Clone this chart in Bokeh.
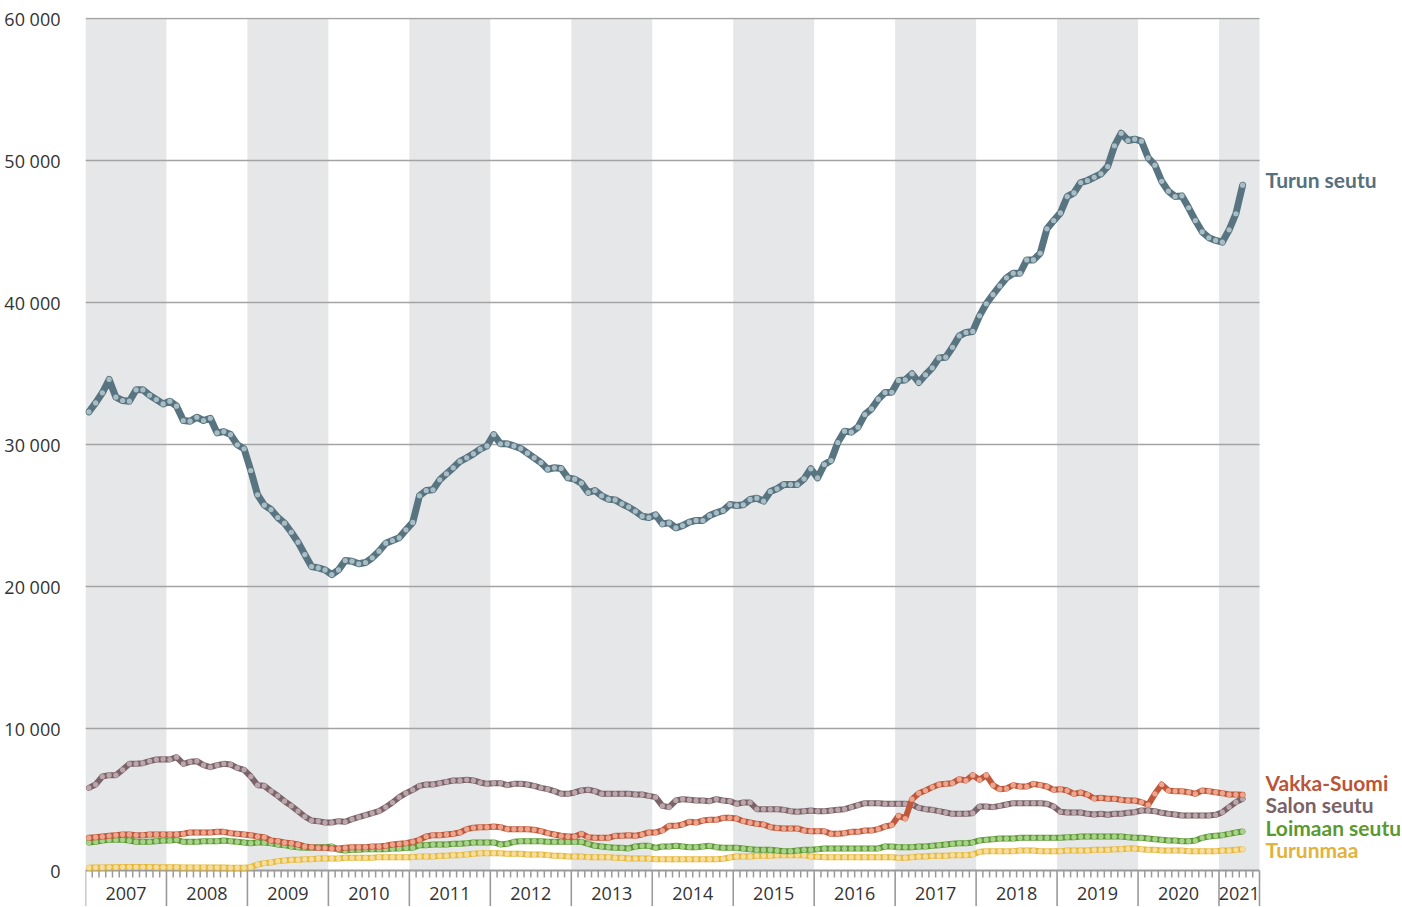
from bokeh.plotting import figure
from bokeh.models import Range1d, FixedTicker
from bokeh.embed import file_html
from bokeh.resources import INLINE
from bokeh.core.properties import value

# ---------------- data (monthly, Jan 2007 - Apr 2021) ----------------
years = [2007, 2008, 2009, 2010, 2011, 2012, 2013, 2014,
         2015, 2016, 2017, 2018, 2019, 2020, 2021]
year_labels = [str(y) for y in years]
y_ticks = [0, 10000, 20000, 30000, 40000, 50000, 60000]
y_tick_labels = ["0", "10 000", "20 000", "30 000", "40 000", "50 000", "60 000"]

turun_seutu = [
    32300, 32930, 33640, 34580, 33330, 33100, 33050, 33850, 33850, 33470, 33170, 32860,
    33050, 32700, 31690, 31640, 31920, 31690, 31850, 30820, 30910, 30700, 29980, 29700,
    28170, 26460, 25730, 25420, 24860, 24460, 23820, 23120, 22250, 21410, 21310, 21170,
    20840, 21170, 21830, 21780, 21600, 21690, 22020, 22490, 23050, 23240, 23430, 23990,
    24510, 26390, 26760, 26810, 27510, 27940, 28360, 28820, 29060, 29340, 29670, 29900,
    30700, 30050, 30050, 29900, 29720, 29390, 29060, 28730, 28260, 28360, 28310, 27650,
    27560, 27280, 26620, 26760, 26390, 26150, 26100, 25820, 25590, 25300, 24950, 24860,
    25050, 24410, 24480, 24130, 24290, 24530, 24650, 24650, 25000, 25190, 25350, 25770,
    25700, 25750, 26130, 26220, 26010, 26690, 26880, 27180, 27180, 27180, 27580, 28290,
    27650, 28590, 28870, 30140, 30940, 30870, 31220, 32110, 32510, 33190, 33660, 33680,
    34510, 34550, 34980, 34370, 34910, 35400, 36100, 36150, 36850, 37650, 37890, 37960,
    39060, 39910, 40560, 41170, 41740, 42060, 42060, 43000, 43000, 43470, 45190, 45770,
    46310, 47460, 47720, 48450, 48590, 48820, 49060, 49580, 51030, 51920, 51410, 51500,
    51360, 50190, 49670, 48540, 47840, 47460, 47510, 46670, 45770, 44980, 44560, 44370,
    44250, 45120, 46250, 48260]

vakka_suomi = [
    2302, 2349, 2396, 2443, 2490, 2537, 2537, 2490, 2490, 2537, 2537, 2537,
    2537, 2537, 2584, 2677, 2677, 2677, 2677, 2724, 2724, 2630, 2584, 2537,
    2490, 2396, 2349, 2114, 2067, 1973, 1926, 1832, 1692, 1645, 1598, 1598,
    1551, 1551, 1598, 1645, 1645, 1645, 1692, 1692, 1739, 1832, 1880, 1926,
    2020, 2161, 2396, 2490, 2490, 2537, 2584, 2677, 2912, 3006, 3053, 3053,
    3100, 3053, 2912, 2912, 2912, 2912, 2865, 2771, 2630, 2537, 2443, 2396,
    2396, 2584, 2349, 2302, 2302, 2302, 2443, 2443, 2490, 2443, 2537, 2677,
    2676, 2817, 3146, 3146, 3240, 3427, 3380, 3521, 3568, 3568, 3709, 3709,
    3662, 3474, 3380, 3287, 3240, 3052, 3000, 2958, 2958, 2958, 2817, 2770,
    2770, 2770, 2582, 2582, 2629, 2723, 2723, 2817, 2817, 2911, 3099, 3193,
    3850, 3662, 5023, 5446, 5634, 5868, 6056, 6103, 6150, 6432, 6338, 6713,
    6385, 6713, 6009, 5727, 5774, 6009, 5915, 5915, 6103, 6009, 5915, 5681,
    5727, 5634, 5399, 5493, 5352, 5070, 5117, 5047, 5047, 4977, 4930, 4930,
    4812, 4625, 5399, 6056, 5634, 5587, 5587, 5516, 5399, 5634, 5587, 5516,
    5446, 5352, 5352, 5329]

salon_seutu = [
    5820, 6057, 6620, 6714, 6714, 7090, 7512, 7512, 7559, 7700, 7817, 7841,
    7817, 7982, 7512, 7653, 7700, 7418, 7278, 7418, 7512, 7465, 7230, 7090,
    6620, 6010, 5963, 5588, 5259, 4883, 4555, 4179, 3804, 3522, 3475, 3381,
    3381, 3475, 3428, 3616, 3757, 3898, 4038, 4179, 4461, 4789, 5165, 5447,
    5682, 5963, 6057, 6057, 6151, 6245, 6339, 6339, 6386, 6339, 6198, 6104,
    6151, 6151, 6010, 6104, 6104, 6057, 5963, 5822, 5728, 5588, 5400, 5400,
    5494, 5635, 5682, 5588, 5400, 5400, 5400, 5400, 5400, 5353, 5353, 5259,
    5164, 4550, 4460, 4930, 5024, 4977, 4930, 4930, 4883, 5024, 4930, 4883,
    4695, 4789, 4789, 4319, 4319, 4319, 4319, 4272, 4178, 4131, 4178, 4225,
    4178, 4178, 4225, 4272, 4319, 4460, 4601, 4742, 4742, 4742, 4695, 4695,
    4695, 4695, 4648, 4413, 4319, 4272, 4178, 4084, 3991, 3991, 3991, 4038,
    4507, 4507, 4460, 4554, 4648, 4742, 4742, 4742, 4742, 4742, 4695, 4507,
    4131, 4084, 4084, 4084, 3991, 3944, 3991, 3920, 3991, 3991, 4061, 4108,
    4226, 4226, 4179, 4061, 3991, 3944, 3873, 3873, 3873, 3873, 3873, 3920,
    4108, 4460, 4812, 5050]

loimaan_seutu = [
    1973, 2020, 2114, 2161, 2161, 2161, 2114, 2020, 2020, 2020, 2067, 2114,
    2114, 2161, 2020, 2020, 2020, 2067, 2067, 2067, 2114, 2067, 2020, 1973,
    1926, 1973, 1973, 1926, 1832, 1785, 1692, 1645, 1598, 1598, 1645, 1645,
    1692, 1457, 1410, 1457, 1457, 1504, 1504, 1504, 1504, 1551, 1551, 1598,
    1598, 1785, 1785, 1832, 1832, 1832, 1880, 1880, 1926, 1973, 1973, 1973,
    1973, 1832, 1880, 2020, 2067, 2067, 2067, 2067, 2020, 2020, 2020, 2020,
    2020, 2020, 1880, 1739, 1692, 1645, 1598, 1598, 1551, 1692, 1739, 1739,
    1597, 1690, 1690, 1737, 1690, 1644, 1644, 1690, 1737, 1644, 1597, 1597,
    1597, 1550, 1503, 1456, 1456, 1456, 1409, 1362, 1362, 1409, 1456, 1456,
    1503, 1550, 1550, 1550, 1550, 1550, 1550, 1550, 1550, 1550, 1690, 1690,
    1644, 1644, 1644, 1690, 1690, 1737, 1784, 1831, 1878, 1925, 1925, 1972,
    2113, 2160, 2207, 2254, 2254, 2254, 2301, 2301, 2301, 2301, 2301, 2301,
    2301, 2348, 2348, 2395, 2395, 2395, 2395, 2395, 2395, 2395, 2348, 2301,
    2301, 2254, 2207, 2160, 2113, 2113, 2066, 2066, 2113, 2301, 2395, 2442,
    2489, 2583, 2676, 2750]

turunmaa = [
    200, 210, 220, 230, 230, 240, 240, 240, 240, 240, 230, 230,
    230, 230, 220, 220, 220, 220, 210, 210, 210, 200, 200, 200,
    237, 425, 519, 566, 660, 706, 753, 753, 800, 800, 847, 847,
    847, 847, 894, 894, 894, 894, 894, 941, 941, 941, 941, 941,
    941, 988, 988, 988, 1035, 1035, 1082, 1082, 1129, 1175, 1222, 1222,
    1222, 1222, 1175, 1175, 1175, 1129, 1129, 1129, 1082, 1035, 1035, 988,
    988, 988, 941, 941, 941, 941, 894, 894, 847, 847, 847, 847,
    799, 799, 799, 799, 799, 799, 799, 799, 799, 799, 830, 920,
    986, 986, 986, 1033, 1033, 1033, 1080, 1080, 1080, 1080, 1080, 986,
    960, 939, 939, 939, 939, 939, 939, 939, 939, 939, 939, 939,
    893, 893, 939, 986, 986, 1033, 1033, 1033, 1080, 1080, 1080, 1127,
    1315, 1362, 1362, 1362, 1362, 1362, 1409, 1409, 1409, 1362, 1362, 1362,
    1362, 1409, 1409, 1409, 1409, 1456, 1456, 1456, 1503, 1503, 1550, 1550,
    1503, 1456, 1456, 1409, 1409, 1409, 1409, 1362, 1362, 1362, 1362, 1362,
    1409, 1409, 1456, 1503]

series = [
    # name, values, line colour, dot colour, label colour, label anchor value
    ("Turunmaa", turunmaa, "#e5b83e", "#f5dd9c", "#e2b33a", 1500),
    ("Loimaan seutu", loimaan_seutu, "#5e9a36", "#a9d18b", "#5a9932", 3030),
    ("Salon seutu", salon_seutu, "#7a6369", "#bba6ab", "#7a6268", 4670),
    ("Vakka-Suomi", vakka_suomi, "#c0593b", "#eba690", "#ba5537", 6200),
    ("Turun seutu", turun_seutu, "#587480", "#a9bdc5", "#56707d", 48660),
]

# ---------------- layout constants ----------------
W, H = 1400, 906
frame_left, frame_top = 85, 17          # canvas px
axis_right_px = 1259                    # where the month axis ends
n_months_axis = 174
px_per_month = (axis_right_px - frame_left) / n_months_axis
units_per_px = 60000 / 852.0
y_end = 60000 + 1 * units_per_px
y_start = y_end - (H - frame_top) * units_per_px
x_end = n_months_axis + (W - axis_right_px) / px_per_month

p = figure(width=W, height=H, output_backend="svg", toolbar_location=None,
           x_range=Range1d(0, x_end), y_range=Range1d(y_start, y_end),
           x_axis_location=None, min_border_left=frame_left, min_border_right=0,
           min_border_top=frame_top, min_border_bottom=0, outline_line_color=None,
           background_fill_color="white", border_fill_color="white")

# alternating year bands
band_l, band_r = [], []
for k, yv in enumerate(years):
    if k % 2 == 0:
        band_l.append(12 * k)
        band_r.append(min(12 * k + 12, n_months_axis))
p.quad(left=band_l, right=band_r, bottom=0, top=60000, fill_color="#e6e7e8",
       line_color=None)

# y axis labels; horizontal grid lines only over the time span
p.yaxis.ticker = FixedTicker(ticks=y_ticks)
p.yaxis.major_label_overrides = dict(zip(y_ticks, y_tick_labels))
p.yaxis.axis_line_color = None
p.yaxis.major_tick_line_color = None
p.yaxis.minor_tick_line_color = None
p.yaxis.major_label_standoff = 19
p.yaxis.major_label_text_font = "Open Sans"
p.yaxis.major_label_text_font_size = "18px"
p.yaxis.major_label_text_color = "#333333"
p.xgrid.visible = False
p.ygrid.visible = False
grid_y = y_ticks[1:]
p.segment(x0=[0] * len(grid_y), y0=grid_y, x1=[n_months_axis] * len(grid_y), y1=grid_y,
          line_color="#a3a3a3", line_width=1.6)

# x axis drawn at y=0 (month ticks, year separators, year labels)
tick_len = 7 * units_per_px
minor_x = [m for m in range(1, n_months_axis) if m % 12 != 0]
p.segment(x0=minor_x, y0=[0] * len(minor_x), x1=minor_x, y1=[-tick_len] * len(minor_x),
          line_color="#9a9a9a", line_width=1.5)
major_x = [12 * k for k in range(len(years))] + [n_months_axis]
p.segment(x0=major_x, y0=[0] * len(major_x), x1=major_x, y1=[y_start] * len(major_x),
          line_color="#9a9a9a", line_width=1.6)
p.segment(x0=[0], y0=[0], x1=[n_months_axis], y1=[0], line_color="#9a9a9a", line_width=1.8)
mid_x = [(12 * k + min(12 * k + 12, n_months_axis)) / 2 for k in range(len(years))]
p.text(x=mid_x, y=[-23 * units_per_px] * len(mid_x), text=year_labels,
       text_align="center", text_baseline="middle", text_font=value("Open Sans"),
       text_font_size="18px", text_color="#333333")

# series
lab_x = n_months_axis + 6 / px_per_month
for name, vals, lc, dc, tc, ylab in series:
    xs = [i + 0.5 for i in range(len(vals))]
    lw = 7 if name == "Turun seutu" else 6
    p.line(xs, vals, line_color=lc, line_width=lw, line_join="round", line_cap="round")
    p.scatter(xs, vals, size=5.2, fill_color=dc, line_color=None)
    p.text(x=[lab_x], y=[ylab], text=[name], text_font=value("Lato"),
           text_font_size="21px", text_font_style="bold", text_color=tc,
           text_baseline="alphabetic", text_align="left")

open("out.html", "w").write(file_html(p, INLINE))
